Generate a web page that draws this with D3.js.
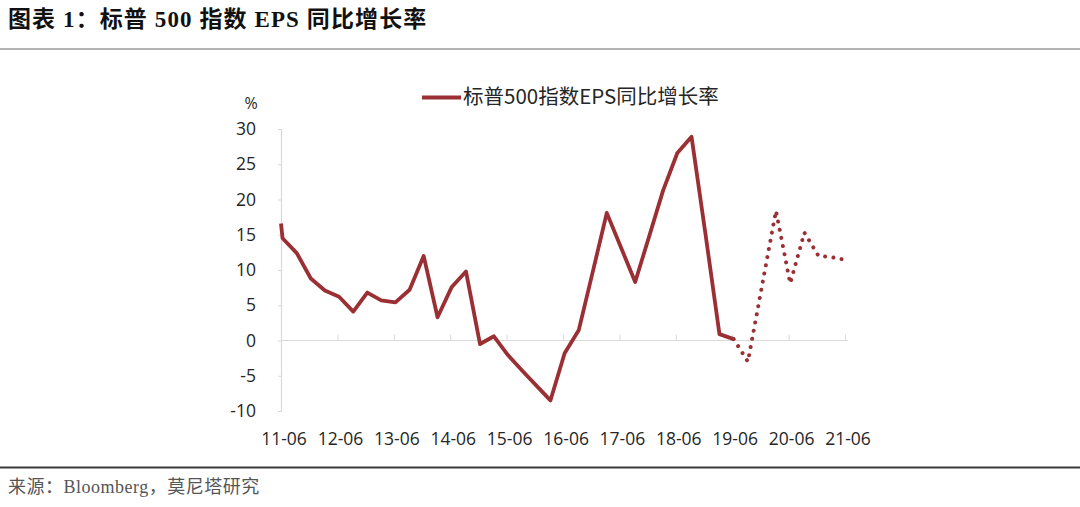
<!DOCTYPE html>
<html>
<head>
<meta charset="utf-8">
<script src="https://cdn.jsdelivr.net/npm/d3@7/dist/d3.min.js"></script>
<style>
html,body{margin:0;padding:0;background:#fff;}
svg{display:block;}
</style>
</head>
<body>
<svg id="chart" width="1080" height="507"></svg>
<script>
// ---- data ----
const titleText = "图表 1：标普 500 指数 EPS 同比增长率";
const sourceText = "来源：Bloomberg，莫尼塔研究";
const seriesName = "标普500指数EPS同比增长率";
const unitLabel = "%";

const xTickLabels = ["11-06","12-06","13-06","14-06","15-06","16-06","17-06","18-06","19-06","20-06","21-06"];
const xTickDates = ["2011-06-01","2012-06-01","2013-06-01","2014-06-01","2015-06-01","2016-06-01","2017-06-01","2018-06-01","2019-06-01","2020-06-01","2021-06-01"];
const yTicks = [-10,-5,0,5,10,15,20,25,30];

// actual (solid)
const actualDates = ["2011-06-01","2011-06-11","2011-09-11","2011-12-11","2012-03-11","2012-06-11","2012-09-11","2012-12-11","2013-03-11","2013-06-11","2013-09-11","2013-12-11","2014-03-11","2014-06-11","2014-09-11","2014-12-11","2015-03-11","2015-06-11","2015-09-11","2015-12-11","2016-03-11","2016-06-11","2016-09-11","2016-12-11","2017-03-11","2017-06-11","2017-09-11","2017-12-11","2018-03-11","2018-06-11","2018-09-11","2018-12-11","2019-03-11","2019-06-11"];
const actualValues = [16.6,14.5,12.4,8.8,7.1,6.2,4.1,6.8,5.7,5.4,7.2,12.0,3.3,7.6,9.8,-0.5,0.6,-2.1,-4.3,-6.4,-8.5,-1.8,1.5,9.8,18.1,13.2,8.3,14.8,21.3,26.6,28.9,15.0,0.9,0.2];

// forecast (dotted)
const forecastDates = ["2019-06-11","2019-09-11","2019-12-11","2020-03-11","2020-06-11","2020-09-11","2020-12-11","2021-03-11","2021-06-11"];
const forecastValues = [0.2,-3.0,7.7,18.4,8.1,15.3,12.0,11.8,11.4];

// ---- drawing ----
const svg = d3.select("#chart");
const parse = d3.timeParse("%Y-%m-%d");
const lineColor = "#9b3034";
const textColor = "#262626";
const axisColor = "#d9d9d9";

const x = d3.scaleTime()
  .domain([parse(xTickDates[0]), parse(xTickDates[xTickDates.length-1])])
  .range([281, 845]);
const y = d3.scaleLinear().domain([-10, 30]).range([411, 129]);

// title
svg.append("text")
  .attr("x", 8).attr("y", 27)
  .attr("font-family", "'Liberation Serif','Noto Sans CJK SC',serif")
  .attr("font-weight", "bold")
  .attr("font-size", 23)
  .attr("letter-spacing", 1.1)
  .attr("fill", "#111")
  .text(titleText);
svg.append("line")
  .attr("x1", 0).attr("x2", 1080).attr("y1", 49).attr("y2", 49)
  .attr("stroke", "#9a9a9a").attr("stroke-width", 1.5);

// footer
svg.append("line")
  .attr("x1", 0).attr("x2", 1080).attr("y1", 467.5).attr("y2", 467.5)
  .attr("stroke", "#3a3a3a").attr("stroke-width", 2);
svg.append("text")
  .attr("x", 8).attr("y", 493)
  .attr("font-family", "'Liberation Serif','Noto Sans CJK SC',serif")
  .attr("font-size", 18)
  .attr("letter-spacing", 0.5)
  .attr("fill", "#555")
  .text(sourceText);

// y axis
const yAxis = d3.axisLeft(y).tickValues(yTicks).tickSize(3).tickPadding(22).tickFormat(d => String(d));
const gy = svg.append("g").attr("transform", "translate(281,0)").call(yAxis);
gy.select(".domain").attr("stroke", axisColor).attr("stroke-width", 1.2);
gy.selectAll(".tick line").attr("stroke", axisColor);
gy.selectAll(".tick text")
  .attr("font-family", "'Open Sans','Noto Sans',sans-serif")
  .attr("font-size", 17.5)
  .attr("fill", textColor);

// unit label
svg.append("text")
  .attr("x", 251).attr("y", 105)
  .attr("text-anchor", "middle").attr("dominant-baseline", "middle")
  .attr("font-family", "'Open Sans','Noto Sans',sans-serif")
  .attr("font-size", 16).attr("fill", textColor)
  .text(unitLabel);

// x axis along zero line (ticks point up)
const xAxis = d3.axisTop(x)
  .tickValues(xTickDates.map(parse))
  .tickSize(6)
  .tickFormat((d, i) => xTickLabels[i]);
const gx = svg.append("g").attr("transform", `translate(0,${y(0)})`).call(xAxis);
gx.select(".domain").attr("stroke", axisColor).attr("stroke-width", 1.2)
  .attr("d", `M${x.range()[0]},0H${x.range()[1] + 3}`);
gx.selectAll(".tick line").attr("stroke", axisColor);
gx.selectAll(".tick text").remove();

// x labels at the bottom
svg.append("g").selectAll("text")
  .data(xTickDates)
  .join("text")
  .attr("x", d => x(parse(d)) + 3)
  .attr("y", 445)
  .attr("text-anchor", "middle")
  .attr("font-family", "'Open Sans','Noto Sans',sans-serif")
  .attr("font-size", 17.5)
  .attr("fill", textColor)
  .text((d, i) => xTickLabels[i]);

// lines
const line = d3.line().x(d => x(parse(d[0]))).y(d => y(d[1]));
svg.append("path")
  .datum(actualDates.map((d, i) => [d, actualValues[i]]))
  .attr("d", line)
  .attr("fill", "none")
  .attr("stroke", lineColor)
  .attr("stroke-width", 3.8)
  .attr("stroke-linejoin", "round");

svg.append("path")
  .datum(forecastDates.map((d, i) => [d, forecastValues[i]]))
  .attr("d", line)
  .attr("fill", "none")
  .attr("stroke", lineColor)
  .attr("stroke-width", 4)
  .attr("stroke-linecap", "round")
  .attr("stroke-dasharray", "0.01 8.3");

// legend
const lg = svg.append("g");
lg.append("line")
  .attr("x1", 422).attr("x2", 461).attr("y1", 97.5).attr("y2", 97.5)
  .attr("stroke", lineColor).attr("stroke-width", 4);
lg.append("text")
  .attr("x", 463).attr("y", 98)
  .attr("dominant-baseline", "middle")
  .attr("font-family", "'Noto Sans CJK SC',sans-serif")
  .attr("font-size", 20.5)
  .attr("fill", textColor)
  .text(seriesName);
</script>
</body>
</html>
